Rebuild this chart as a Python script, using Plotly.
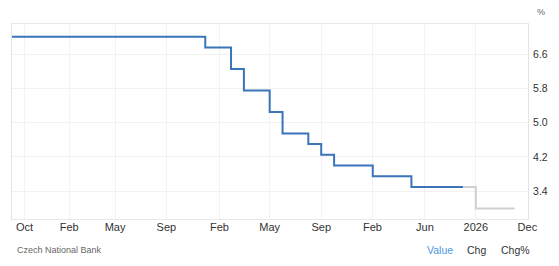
import plotly.graph_objects as go

# Slot index of each observation on the chart's ordinal time axis (Sep 2022 = 0)
hist_slot = [0, 15, 17, 18, 20, 21, 23, 24, 25, 28, 31, 35]
hist_rate = [7.0, 6.75, 6.25, 5.75, 5.25, 4.75, 4.5, 4.25, 4.0, 3.75, 3.5, 3.5]
fc_slot = [35, 36, 39]
fc_rate = [3.5, 3.0, 3.0]

tick_slot = [0.97, 4.44, 8.0, 11.98, 16.1, 20.0, 24.0, 27.98, 32.05, 36.0, 40.0]
tick_text = ["Oct", "Feb", "May", "Sep", "Feb", "May", "Sep", "Feb", "Jun", "2026", "Dec"]
y_ticks = [3.4, 4.2, 5.0, 5.8, 6.6]

FONT = "Arial, Liberation Sans, sans-serif"

fig = go.Figure()
fig.add_trace(go.Scatter(x=fc_slot, y=fc_rate, mode="lines", line=dict(color="#cfcfcf", width=2, shape="hv"),
                         hoverinfo="skip", showlegend=False))
fig.add_trace(go.Scatter(x=hist_slot, y=hist_rate, mode="lines", line=dict(color="#3a75b9", width=2, shape="hv"),
                         showlegend=False))

fig.update_layout(
    width=559, height=266,
    margin=dict(l=11, r=22, t=24, b=47),
    paper_bgcolor="white", plot_bgcolor="white",
    font=dict(family=FONT, size=11, color="#333333"),
    xaxis=dict(range=[0, 40.05], tickvals=tick_slot, ticktext=tick_text, showgrid=True,
               gridcolor="#f2f2f2", gridwidth=1, zeroline=False, showline=True, linecolor="#e8e8e8",
               mirror=True, ticks="", ticklabelstandoff=-2, tickfont=dict(size=11, color="#333333")),
    yaxis=dict(range=[2.754, 7.3], side="right", tickvals=y_ticks, ticktext=[f"{v:.1f}" for v in y_ticks],
               showgrid=True, gridcolor="#f2f2f2", gridwidth=1, zeroline=False, showline=True,
               linecolor="#e3e3e3", mirror=True, ticks="", ticklabelstandoff=2,
               tickfont=dict(size=10.5, color="#333333")),
    annotations=[
        dict(text="%", xref="paper", yref="paper", x=1.0, y=1.06, xanchor="left", yanchor="middle",
             xshift=7, showarrow=False, font=dict(size=9, color="#666666")),
        dict(text="Czech National Bank", xref="paper", yref="paper", x=0, y=-0.159, xanchor="left",
             yanchor="middle", xshift=3, showarrow=False, font=dict(size=9, color="#666666")),
        dict(text="Value", xref="paper", yref="paper", x=(431.7 - 11) / 526, y=-0.159, xanchor="left",
             yanchor="middle", showarrow=False, font=dict(size=10.5, color="#4d97e0")),
        dict(text="Chg", xref="paper", yref="paper", x=(472.7 - 11) / 526, y=-0.159, xanchor="left",
             yanchor="middle", showarrow=False, font=dict(size=10.5, color="#333333")),
        dict(text="Chg%", xref="paper", yref="paper", x=(507 - 11) / 526, y=-0.159, xanchor="left",
             yanchor="middle", showarrow=False, font=dict(size=10.5, color="#333333")),
    ],
)

fig.write_html("out.html")
